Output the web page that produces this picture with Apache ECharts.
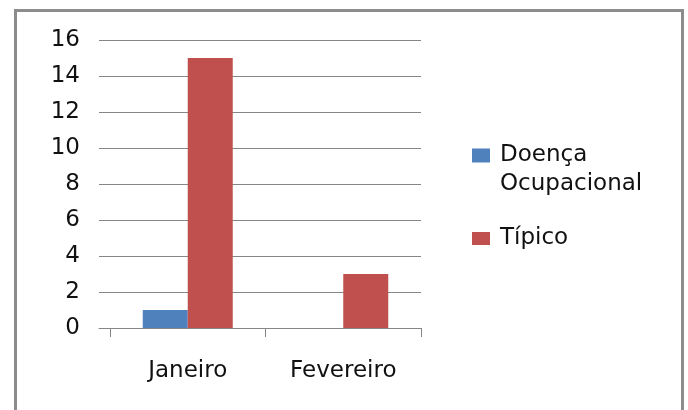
<!DOCTYPE html>
<html>
<head>
<meta charset="utf-8">
<script src="https://cdn.jsdelivr.net/npm/echarts@6/dist/echarts.min.js"></script>
<style>html,body{margin:0;padding:0;background:#fff}#c{width:688px;height:410px}</style>
</head>
<body>
<div id="c"></div>
<script>
var categories = ['Janeiro', 'Fevereiro'];
var doencaOcupacional = [1, 0];
var tipico = [15, 3];
var seriesNames = ['Doença Ocupacional', 'Típico'];

var FONT = 'DejaVu Sans';
var chart = echarts.init(document.getElementById('c'));
chart.setOption({
  animation: false,
  backgroundColor: '#fff',
  graphic: [{
    type: 'rect', silent: true, z: -10,
    shape: { x: 15.5, y: 10.5, width: 667, height: 430 },
    style: { fill: '#fff', stroke: '#8c8c8c', lineWidth: 3 }
  }],
  grid: [
    { left: 99, right: 267, top: 40, bottom: 82 },
    { left: 110, right: 267, top: 40, bottom: 82 }
  ],
  xAxis: [{
    type: 'category', gridIndex: 0, data: categories,
    axisLine: { show: true, lineStyle: { color: '#868686', width: 1 } },
    axisTick: { show: false }, axisLabel: { show: false }
  }, {
    type: 'category', gridIndex: 1, data: categories,
    axisLine: { show: false },
    axisTick: { show: true, length: 9, lineStyle: { color: '#868686' } },
    axisLabel: { margin: 32, color: '#111', fontFamily: FONT, fontSize: 23 }
  }],
  yAxis: [{
    type: 'value', gridIndex: 0, min: 0, max: 16, interval: 2,
    axisLine: { show: false }, axisTick: { show: false },
    splitLine: { lineStyle: { color: '#868686', width: 1 } },
    axisLabel: { margin: 19, color: '#111', fontFamily: FONT, fontSize: 23 }
  }, {
    type: 'value', gridIndex: 1, min: 0, max: 16, interval: 2, show: false,
    splitLine: { show: false }
  }],
  legend: [{
    data: [seriesNames[0]], orient: 'vertical', left: 472, top: 112, padding: 0,
    icon: 'rect', itemWidth: 18, itemHeight: 14,
    formatter: function (n) { return ' \n' + n.replace(' ', '\n'); },
    textStyle: { fontFamily: FONT, fontSize: 23, color: '#111', lineHeight: 29, padding: [0, 0, 0, 5] }
  }, {
    data: [seriesNames[1]], orient: 'vertical', left: 472, top: 224, padding: 0,
    icon: 'rect', itemWidth: 18, itemHeight: 13,
    textStyle: { fontFamily: FONT, fontSize: 23, color: '#111', lineHeight: 29, padding: [0, 0, 0, 5] }
  }],
  series: [{
    name: seriesNames[0], type: 'bar', xAxisIndex: 1, yAxisIndex: 1,
    data: doencaOcupacional, barWidth: 45, barGap: '0%',
    itemStyle: { color: '#4F81BD' }
  }, {
    name: seriesNames[1], type: 'bar', xAxisIndex: 1, yAxisIndex: 1,
    data: tipico, barWidth: 45, barGap: '0%',
    itemStyle: { color: '#C0504D' }
  }]
});
</script>
</body>
</html>
